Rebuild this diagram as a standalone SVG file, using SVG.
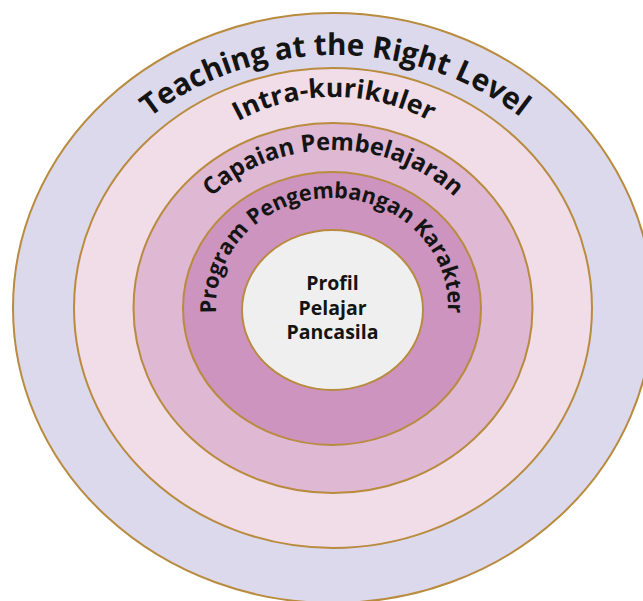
<svg xmlns="http://www.w3.org/2000/svg" xmlns:xlink="http://www.w3.org/1999/xlink" width="643" height="601" viewBox="0 0 643 601">
  <style>
    .ring { stroke: #b98b3e; stroke-width: 2; }
    .lbl { font-family: "Open Sans", "Noto Sans", "Liberation Sans", sans-serif; font-weight: bold; fill: #141414; }
  </style>
  <defs>
    <path id="p1" d="M 335 561 A 282 253 0 0 1 335 55 A 282 253 0 0 1 335 561"/>
    <path id="p2" d="M 334 443.6 A 188 173.3 0 0 1 334 97 A 188 173.3 0 0 1 334 443.6"/>
    <path id="p3" d="M 333 464 A 170.5 157 0 0 1 333 150 A 170.5 157 0 0 1 333 464"/>
    <path id="p4" d="M 332 414 A 116 108 0 0 1 332 198 A 116 108 0 0 1 332 414"/>
  </defs>
  <rect width="643" height="601" fill="#ffffff"/>
  <g id="ring-teaching">
    <ellipse class="ring" cx="333" cy="308" rx="320" ry="295" fill="#dcd9ec"/>
  </g>
  <g id="ring-intra">
    <ellipse class="ring" cx="333" cy="308" rx="259" ry="240" fill="#f0dde8"/>
  </g>
  <g id="ring-capaian">
    <ellipse class="ring" cx="333" cy="308" rx="199.5" ry="185" fill="#dfb8d4"/>
  </g>
  <g id="ring-program">
    <ellipse class="ring" cx="332" cy="308.5" rx="149" ry="136.5" fill="#cc94be"/>
  </g>
  <g id="core-profil">
    <ellipse class="ring" cx="332.5" cy="310" rx="90.5" ry="80" fill="#efefef"/>
    <text class="lbl" font-size="19.5" text-anchor="middle" x="332.5" y="290">Profil</text>
    <text class="lbl" font-size="19.5" text-anchor="middle" x="332.5" y="314.5">Pelajar</text>
    <text class="lbl" font-size="19.5" text-anchor="middle" x="332.5" y="339">Pancasila</text>
  </g>
  <g id="labels">
    <text class="lbl" font-size="30"><textPath href="#p1" xlink:href="#p1" startOffset="50%" text-anchor="middle" textLength="398" lengthAdjust="spacingAndGlyphs">Teaching at the Right Level</textPath></text>
    <text class="lbl" font-size="26"><textPath href="#p2" xlink:href="#p2" startOffset="50%" text-anchor="middle" textLength="200" lengthAdjust="spacingAndGlyphs">Intra-kurikuler</textPath></text>
    <text class="lbl" font-size="24"><textPath href="#p3" xlink:href="#p3" startOffset="50%" text-anchor="middle" textLength="267" lengthAdjust="spacingAndGlyphs">Capaian Pembelajaran</textPath></text>
    <text class="lbl" font-size="22"><textPath href="#p4" xlink:href="#p4" startOffset="50%" text-anchor="middle" textLength="366" lengthAdjust="spacingAndGlyphs">Program Pengembangan Karakter</textPath></text>
  </g>
</svg>
